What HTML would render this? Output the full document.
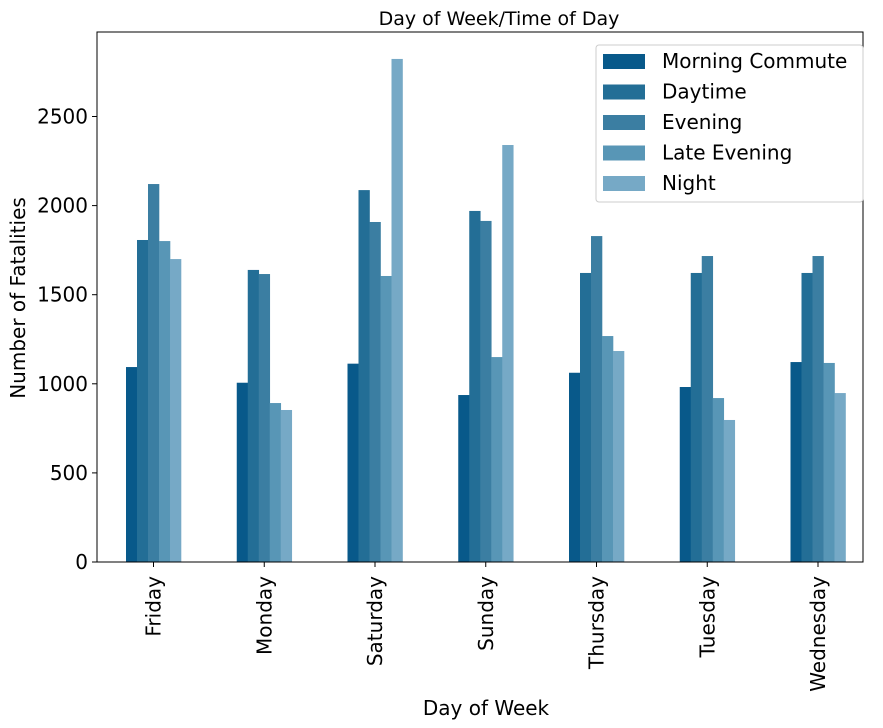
<!DOCTYPE html>
<html><head><meta charset="utf-8"><style>
body{margin:0;background:#fff;}
svg{display:block;font-family:"DejaVu Sans","Liberation Sans",sans-serif;}
</style></head><body>
<svg id="chart" width="883" height="728">
<text x="499" y="25" font-size="19" text-anchor="middle">Day of Week/Time of Day</text>
<text x="486" y="715" font-size="20" text-anchor="middle">Day of Week</text>
<text transform="translate(25,298) rotate(-90)" font-size="20" text-anchor="middle">Number of Fatalities</text>
<g id="bars"></g><g id="axes"></g><g id="legend"></g>
</svg>
<script>
const categories = ["Friday","Monday","Saturday","Sunday","Thursday","Tuesday","Wednesday"];
const seriesNames = ["Morning Commute","Daytime","Evening","Late Evening","Night"];
const morning = [1094,1006,1113,937,1062,982,1122];
const daytime = [1807,1639,2087,1970,1622,1622,1622];
const evening = [2121,1616,1908,1914,1829,1717,1717];
const lateEvening = [1801,892,1605,1150,1268,920,1117];
const night = [1700,853,2823,2340,1184,797,948];
const yTicks = [0,500,1000,1500,2000,2500];
const series = [morning,daytime,evening,lateEvening,night];
const colors = ["#08598a","#236e96","#3b7ea2","#5896b6","#76a9c6"];
const NS="http://www.w3.org/2000/svg";
const L=97,R=863,T=32,B=562;
const yScale=v=>B-v*0.1782;
const band=110.75;
const xCenter=i=>153.5+i*band;
const groupW=55;
const bw=groupW/series.length;
function mk(t,a,p){const e=document.createElementNS(NS,t);for(const k in a)e.setAttribute(k,a[k]);p.appendChild(e);return e;}
const bars=document.getElementById('bars');
series.forEach((s,si)=>{s.forEach((v,i)=>{
 const r=mk('rect',{x:xCenter(i)-groupW/2+si*bw,y:yScale(v),width:bw+0.3,height:B-yScale(v),fill:colors[si]},bars);
 
 
});});
const ax=document.getElementById('axes');
const frame=mk('rect',{x:L,y:T,width:R-L,height:B-T,fill:'none',stroke:'#000','stroke-width':1},ax);


yTicks.forEach(t=>{const y=yScale(t);
 mk('line',{x1:L-5,x2:L,y1:y,y2:y,stroke:'#000'},ax);
 const tx=mk('text',{x:L-9,y:y+7,'font-size':20,'text-anchor':'end'},ax);tx.textContent=t;
 
 
});
categories.forEach((c,i)=>{const x=xCenter(i);
 mk('line',{x1:x,x2:x,y1:B,y2:B+5,stroke:'#000'},ax);
 const tx=mk('text',{transform:`translate(${x+7},576) rotate(-90)`,'font-size':20,'text-anchor':'end'},ax);tx.textContent=c;
 
 
});
const lg=document.getElementById('legend');
const box=mk('rect',{x:596,y:45,width:267,height:157,rx:3,fill:'#fff','fill-opacity':0.8,stroke:'#ccc'},lg);


seriesNames.forEach((n,i)=>{const y=61+i*30.5;
 const p=mk('rect',{x:603,y:y-7,width:42,height:15,fill:colors[i]},lg);
 
 
 const t=mk('text',{x:662,y:y+7,'font-size':20},lg);t.textContent=n;
 
 
});
</script>
</body></html>
